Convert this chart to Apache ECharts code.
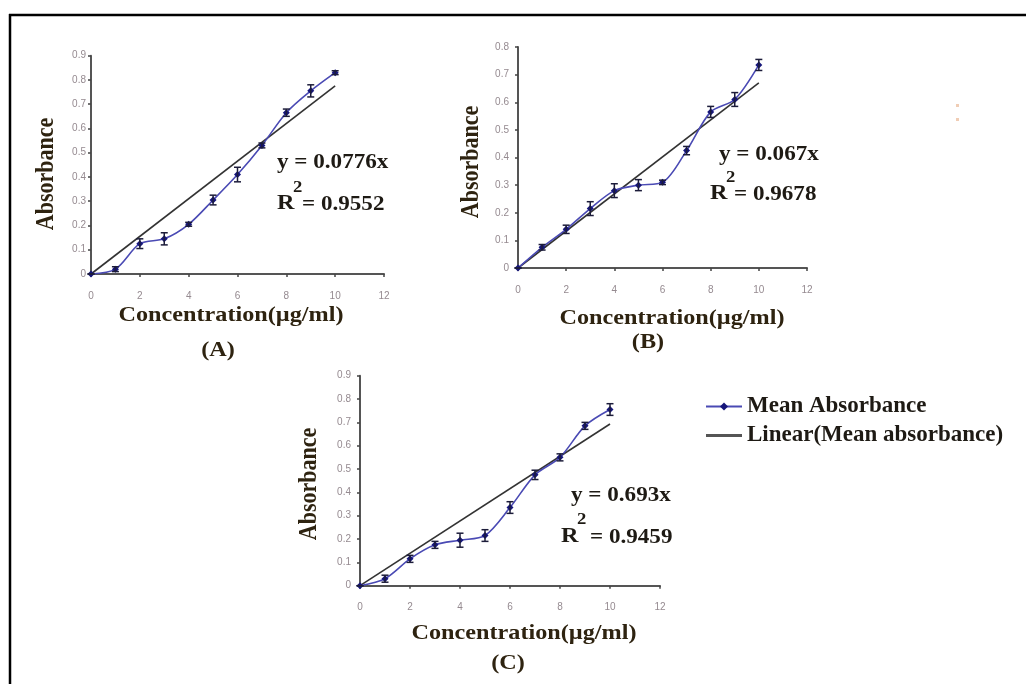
<!DOCTYPE html>
<html>
<head>
<meta charset="utf-8">
<script src="https://cdn.jsdelivr.net/npm/echarts@6/dist/echarts.min.js"></script>
<style>
  html, body { margin: 0; padding: 0; background: #fff; }
  #chart { width: 1026px; height: 684px; }
</style>
</head>
<body>
<div id="chart"></div>
<script>
// Concentration of the standard solutions (µg/ml)
const concentration = [0, 1, 2, 3, 4, 5, 6, 7, 8, 9, 10];

// Mean absorbance and its error for each calibration set
const absorbanceA = [0, 0.02, 0.125, 0.145, 0.205, 0.305, 0.41, 0.53, 0.665, 0.755, 0.83];
const errorA      = [0, 0.01, 0.02, 0.025, 0.008, 0.02, 0.03, 0.01, 0.015, 0.025, 0.008];
const absorbanceB = [0, 0.075, 0.14, 0.215, 0.28, 0.30, 0.31, 0.425, 0.565, 0.61, 0.735];
const errorB      = [0, 0.01, 0.015, 0.025, 0.025, 0.02, 0.008, 0.015, 0.02, 0.025, 0.02];
const absorbanceC = [0, 0.03, 0.115, 0.175, 0.195, 0.215, 0.335, 0.475, 0.55, 0.685, 0.755];
const errorC      = [0, 0.015, 0.015, 0.015, 0.03, 0.025, 0.025, 0.02, 0.015, 0.015, 0.025];

// Linear fits through the origin (slope per µg/ml) and their labels
const fitSlopes = [0.0776, 0.067, 0.0693];
const fitRange = [0, 10];
const equationLabels = ['y = 0.0776x', 'y = 0.067x', 'y = 0.693x'];
const r2Labels = ['= 0.9552', '= 0.9678', '= 0.9459'];
const panelLabels = ['(A)', '(B)', '(C)'];
const yMax = [0.9, 0.8, 0.9];

const xTitle = 'Concentration(µg/ml)';
const yTitle = 'Absorbance';
const seriesName = 'Mean Absorbance';
const fitName = 'Linear(Mean absorbance)';

const SERIF = '"Liberation Serif", "DejaVu Serif", serif';
const TITLE_COLOR = '#2e2310';
const TEXT_DARK = '#1e1a14';
const LINE_BLUE = '#4a4ab4';
const MARK_BLUE = '#16167a';
const STRETCH = 1.1;   // the lettering is set slightly wide

const grids = [
  { left: 91, top: 55.7, width: 293, height: 218.3 },
  { left: 518, top: 47, width: 289, height: 221 },
  { left: 360, top: 375.7, width: 300, height: 210 }
];
const yLabelMargin = [5, 9, 9];

const sets = [
  { y: absorbanceA, e: errorA },
  { y: absorbanceB, e: errorB },
  { y: absorbanceC, e: errorC }
];

const axisLine = { lineStyle: { color: '#555', width: 2 } };
const axisTick = { length: 3, lineStyle: { color: '#444', width: 1.5 } };
const axisLabel = { color: '#958a90', fontSize: 10, fontFamily: 'Liberation Sans, Arial, sans-serif' };

const xAxes = grids.map((g, i) => ({
  type: 'value', gridIndex: i, min: 0, max: 12, interval: 2,
  axisLine: Object.assign({ onZero: false }, axisLine), axisTick,
  axisLabel: Object.assign({}, axisLabel, { margin: 17 }),
  splitLine: { show: false }
}));
const yAxes = grids.map((g, i) => ({
  type: 'value', gridIndex: i, min: 0, max: yMax[i], interval: 0.1,
  axisLine: Object.assign({ show: true }, axisLine), axisTick: Object.assign({ show: true }, axisTick),
  axisLabel: Object.assign({}, axisLabel, { margin: yLabelMargin[i], formatter: v => (v === 0 ? '0' : v.toFixed(1)) }),
  splitLine: { show: false }
}));

const series = [];
sets.forEach((s, i) => {
  const points = concentration.map((x, k) => [x, s.y[k]]);
  // linear fit through the origin
  series.push({
    name: fitName, type: 'line', xAxisIndex: i, yAxisIndex: i,
    data: fitRange.map(x => [x, fitSlopes[i] * x]),
    showSymbol: false, symbol: 'none',
    lineStyle: { color: '#333', width: 1.6 }, itemStyle: { color: '#555' },
    z: 2, silent: true
  });
  // mean absorbance, smoothed
  series.push({
    name: seriesName, type: 'line', xAxisIndex: i, yAxisIndex: i,
    data: points, smooth: 0.3,
    symbol: 'diamond', symbolSize: 7,
    lineStyle: { color: LINE_BLUE, width: 1.6 },
    itemStyle: { color: MARK_BLUE },
    z: 3, silent: true
  });
  // error bars
  series.push({
    type: 'custom', xAxisIndex: i, yAxisIndex: i,
    data: concentration.map((x, k) => [x, s.y[k] - s.e[k], s.y[k] + s.e[k]]),
    renderItem: (params, api) => {
      const lo = api.coord([api.value(0), api.value(1)]);
      const hi = api.coord([api.value(0), api.value(2)]);
      const w = 3.5;
      const st = { stroke: '#1c1c3a', lineWidth: 1.5 };
      return {
        type: 'group',
        children: [
          { type: 'line', shape: { x1: lo[0], y1: lo[1], x2: hi[0], y2: hi[1] }, style: st },
          { type: 'line', shape: { x1: lo[0] - w, y1: lo[1], x2: lo[0] + w, y2: lo[1] }, style: st },
          { type: 'line', shape: { x1: hi[0] - w, y1: hi[1], x2: hi[0] + w, y2: hi[1] }, style: st }
        ]
      };
    },
    z: 4, silent: true
  });
});

function txt(text, x, y, size, opts) {
  opts = opts || {};
  const el = {
    type: 'text', x, y, silent: true,
    style: Object.assign({
      text, font: 'bold ' + size + 'px ' + SERIF, fill: TITLE_COLOR,
      align: 'center', verticalAlign: 'middle'
    }, opts.style || {})
  };
  if (opts.rotation !== undefined) {
    el.rotation = opts.rotation;
    el.scaleY = STRETCH;
  } else {
    el.scaleX = STRETCH;
  }
  return el;
}

// Axis titles and panel captions
const titlePos = [
  { ya: [47, 174], xa: [231, 315], cap: [218, 350] },
  { ya: [472, 162], xa: [672, 318], cap: [648, 342] },
  { ya: [310, 484], xa: [524, 633], cap: [508, 663] }
];
// Fit equations: [equation left, centre y, R left, R centre y, "2" centre y, gap to "="]
const eqPos = [
  [277, 163, 277, 203, 188, 25],
  [719, 155, 710, 193, 178, 24],
  [571, 496, 561, 536, 520, 29]
];

const graphics = [];
titlePos.forEach((p, i) => {
  graphics.push(txt(yTitle, p.ya[0], p.ya[1], 22, { rotation: Math.PI / 2 }));
  graphics.push(txt(xTitle, p.xa[0], p.xa[1], 22));
  graphics.push(txt(panelLabels[i], p.cap[0], p.cap[1], 22));
});
eqPos.forEach((p, i) => {
  const eqStyle = { align: 'left', fill: TEXT_DARK };
  graphics.push(txt(equationLabels[i], p[0], p[1], 21, { style: eqStyle }));
  graphics.push(txt('R', p[2], p[3], 22, { style: eqStyle }));
  graphics.push(txt('2', p[2] + 16, p[4], 17, { style: eqStyle }));
  graphics.push(txt(r2Labels[i], p[2] + p[5], p[3] + 2, 21, { style: eqStyle }));
});

// frame lines
graphics.push({ type: 'line', silent: true, shape: { x1: 9, y1: 15, x2: 1026, y2: 15 }, style: { stroke: '#000', lineWidth: 2.5 } });
graphics.push({ type: 'line', silent: true, shape: { x1: 10, y1: 14, x2: 10, y2: 684 }, style: { stroke: '#000', lineWidth: 2.5 } });
// two faint specks at the right
graphics.push({ type: 'rect', silent: true, shape: { x: 956, y: 104, width: 3, height: 3 }, style: { fill: '#f0cdb5' } });
graphics.push({ type: 'rect', silent: true, shape: { x: 956, y: 118, width: 3, height: 3 }, style: { fill: '#f0cdb5' } });

const chart = echarts.init(document.getElementById('chart'), null, { renderer: 'canvas' });
chart.setOption({
  animation: false,
  backgroundColor: '#fff',
  grid: grids,
  xAxis: xAxes,
  yAxis: yAxes,
  legend: {
    data: [
      { name: seriesName },
      { name: fitName, icon: 'path://M0,0H36V3H0Z', itemStyle: { color: '#555' } }
    ],
    orient: 'vertical', left: 705, top: 395, padding: 0,
    itemWidth: 36, itemHeight: 10, itemGap: 6,
    textStyle: { fontFamily: SERIF, fontWeight: 'bold', fontSize: 23, color: TEXT_DARK },
    selectedMode: false
  },
  series,
  graphic: graphics
});
</script>
</body>
</html>
